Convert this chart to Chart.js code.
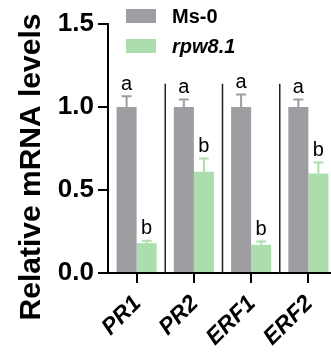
<!DOCTYPE html>
<html>
<head>
<meta charset="utf-8">
<script src="https://cdn.jsdelivr.net/npm/chart.js@4"></script>
<style>
    html, body { margin: 0; padding: 0; background: #fff; overflow: hidden; }
    #wrap { width: 337px; height: 358px; }
</style>
</head>
<body>
<div id="wrap"><canvas id="chart"></canvas></div>
<script>
// --- Data ---
const genes = ['PR1', 'PR2', 'ERF1', 'ERF2'];
const msValues = [1.0, 1.0, 1.0, 1.0];
const msErrors = [0.065, 0.045, 0.075, 0.045];
const msLetters = ['a', 'a', 'a', 'a'];
const rpwValues = [0.18, 0.61, 0.17, 0.60];
const rpwErrors = [0.015, 0.08, 0.02, 0.065];
const rpwLetters = ['b', 'b', 'b', 'b'];
const yTicks = [0, 0.5, 1.0, 1.5];
const separatorTop = 1.14;

const gray = '#9e9da2';
const green = '#abdeac';
const fontFamily = '"Liberation Sans", Arial, sans-serif';

// --- Error bars, letters, separators ---
const errorBarPlugin = {
    id: 'errorBars',
    afterDatasetsDraw(chart) {
        const { ctx, scales: { x, y } } = chart;
        ctx.save();

        // separators between categories
        ctx.strokeStyle = '#222';
        ctx.lineWidth = 1.5;
        for (let i = 0; i < genes.length - 1; i++) {
            const sx = (x.getPixelForTick(i) + x.getPixelForTick(i + 1)) / 2;
            ctx.beginPath();
            ctx.moveTo(sx, y.getPixelForValue(separatorTop));
            ctx.lineTo(sx, y.getPixelForValue(0));
            ctx.stroke();
        }

        chart.data.datasets.forEach((ds, di) => {
            const meta = chart.getDatasetMeta(di);
            meta.data.forEach((bar, i) => {
                const top = y.getPixelForValue(ds.data[i] + ds.errors[i]);
                const base = y.getPixelForValue(ds.data[i]);
                ctx.strokeStyle = ds.backgroundColor;
                ctx.lineWidth = 2;
                ctx.beginPath();
                ctx.moveTo(bar.x, base);
                ctx.lineTo(bar.x, top);
                ctx.moveTo(bar.x - 5, top);
                ctx.lineTo(bar.x + 5, top);
                ctx.stroke();

                ctx.fillStyle = '#000';
                ctx.font = '20px ' + fontFamily;
                ctx.textAlign = 'center';
                ctx.textBaseline = 'bottom';
                ctx.fillText(ds.letters[i], bar.x, top - 2);
            });
        });
        ctx.restore();
    }
};

// --- Rotated x labels, y title, legend ---
const decorPlugin = {
    id: 'decor',
    afterDraw(chart) {
        const { ctx, scales: { x, y } } = chart;

        // x labels at 45 degrees
        ctx.save();
        ctx.fillStyle = '#000';
        ctx.font = 'italic bold 23px ' + fontFamily;
        ctx.textAlign = 'right';
        ctx.textBaseline = 'middle';
        genes.forEach((g, i) => {
            ctx.save();
            ctx.translate(x.getPixelForTick(i) + 1, y.getPixelForValue(0) + 27);
            ctx.rotate(-Math.PI / 4);
            ctx.fillText(g, 0, 0);
            ctx.restore();
        });
        ctx.restore();

        // y title
        ctx.save();
        ctx.fillStyle = '#000';
        ctx.font = 'bold 30px ' + fontFamily;
        ctx.translate(32, 167);
        ctx.rotate(-Math.PI / 2);
        ctx.textAlign = 'center';
        ctx.textBaseline = 'middle';
        ctx.fillText('Relative mRNA levels', 0, 0);
        ctx.restore();

        // legend
        ctx.save();
        const items = [
            { color: gray, label: 'Ms-0', font: 'bold 20px ' + fontFamily, y: 16 },
            { color: green, label: 'rpw8.1', font: 'italic bold 20px ' + fontFamily, y: 46 }
        ];
        items.forEach(it => {
            ctx.fillStyle = it.color;
            ctx.fillRect(126, it.y - 7, 30, 14);
            ctx.fillStyle = '#000';
            ctx.font = it.font;
            ctx.textAlign = 'left';
            ctx.textBaseline = 'middle';
            ctx.fillText(it.label, 172, it.y + 1);
        });
        ctx.restore();
    }
};

const ctx = document.getElementById('chart').getContext('2d');
new Chart(ctx, {
    type: 'bar',
    data: {
        labels: genes,
        datasets: [
            { label: 'Ms-0', data: msValues, errors: msErrors, letters: msLetters, backgroundColor: gray },
            { label: 'rpw8.1', data: rpwValues, errors: rpwErrors, letters: rpwLetters, backgroundColor: green }
        ]
    },
    options: {
        responsive: true,
        maintainAspectRatio: false,
        animation: false,
        devicePixelRatio: 1,
        layout: { padding: { top: 24, right: 0, left: 0, bottom: 0 } },
        datasets: { bar: { categoryPercentage: 0.7, barPercentage: 1.0 } },
        plugins: { legend: { display: false }, tooltip: { enabled: false } },
        scales: {
            x: {
                grid: { drawOnChartArea: false, color: '#000', lineWidth: 2, tickLength: 10, offset: false },
                border: { color: '#000', width: 2 },
                ticks: { display: false },
                afterFit(scale) { scale.height = 85; }
            },
            y: {
                min: 0,
                max: 1.5,
                afterBuildTicks(scale) { scale.ticks = yTicks.map(v => ({ value: v })); },
                grid: { drawOnChartArea: false, color: '#000', lineWidth: 2, tickLength: 10 },
                border: { color: '#000', width: 2 },
                ticks: {
                    color: '#000',
                    padding: 4,
                    callback: v => v.toFixed(1),
                    font: { family: fontFamily, size: 26, weight: 'bold' }
                },
                afterFit(scale) { scale.width = 108; }
            }
        }
    },
    plugins: [errorBarPlugin, decorPlugin]
});
</script>
</body>
</html>
